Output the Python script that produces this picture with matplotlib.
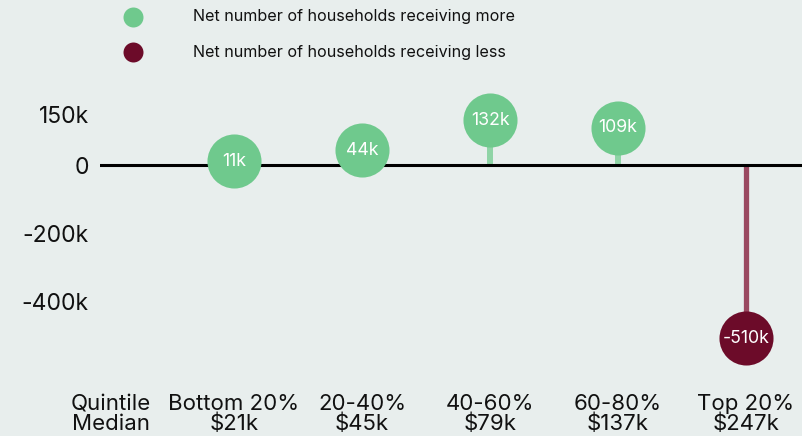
import numpy as np
from matplotlib import pyplot as plt

plt.rcParams['font.family'] = ['Inter', 'DejaVu Sans']

# data
groups = ["Bottom 20%", "20-40%", "40-60%", "60-80%", "Top 20%"]
medians = ["$21k", "$45k", "$79k", "$137k", "$247k"]
values = [11, 44, 132, 109, -510]          # thousands of households
value_labels = ["11k", "44k", "132k", "109k", "-510k"]
ytick_vals = [150, 0, -200, -400]
ytick_labels = ["150k", "0", "-200k", "-400k"]
legend_labels = ["Net number of households receiving more",
                 "Net number of households receiving less"]

bg = '#e8eeed'
green = '#6fc98d'
green_stem = '#8fd4a6'
red = '#6c0b29'
red_stem = '#9a4961'

fig = plt.figure(figsize=(8.03, 4.36), dpi=100, facecolor=bg)
ax = fig.add_axes([100/803, 61/436, 703/803, 285/436], facecolor=bg)

x = np.arange(1, len(groups) + 1)
ax.set_xlim(-0.047, 5.445)
ax.set_ylim(-617.6, 220.6)

ax.axhline(0, color='black', lw=2.2, zorder=2)
for xi, v in zip(x, values):
    if v >= 0:
        ax.plot([xi, xi], [0, v], color=green_stem, lw=4.3, zorder=1,
                solid_capstyle='butt')
        col = green
    else:
        ax.plot([xi, xi], [0, v], color=red_stem, lw=3.8, zorder=1,
                solid_capstyle='butt')
        col = red
    ax.scatter([xi], [v], s=1515, color=col, zorder=3, linewidths=0)
for xi, v, lab in zip(x, values, value_labels):
    ax.text(xi, v, lab, color='white', fontsize=12.8, ha='center', va='center',
            zorder=4)

ax.set_yticks(ytick_vals)
ax.set_yticklabels(ytick_labels, fontsize=16.5)
# first tick holds the row header
ax.set_xticks([0.04] + list(x))
ax.set_xticklabels(["Quintile\nMedian"] +
                   [g + "\n" + m for g, m in zip(groups, medians)],
                   fontsize=16, linespacing=0.95)
ax.tick_params(axis='both', length=0, colors='#111111')
ax.tick_params(axis='x', pad=14)
ax.tick_params(axis='y', pad=8)
for s in ax.spines.values():
    s.set_visible(False)

# legend
for i, (lab, col) in enumerate(zip(legend_labels, [green, red])):
    yy = 1 - (17 + 35 * i) / 436
    ax.scatter([133/803], [yy], s=207, color=col, transform=fig.transFigure,
               clip_on=False, linewidths=0)
    fig.text(193/803, yy, lab, fontsize=11.6, va='center', ha='left',
             color='#111111')

fig.savefig("out.png", dpi=100, facecolor=bg)
